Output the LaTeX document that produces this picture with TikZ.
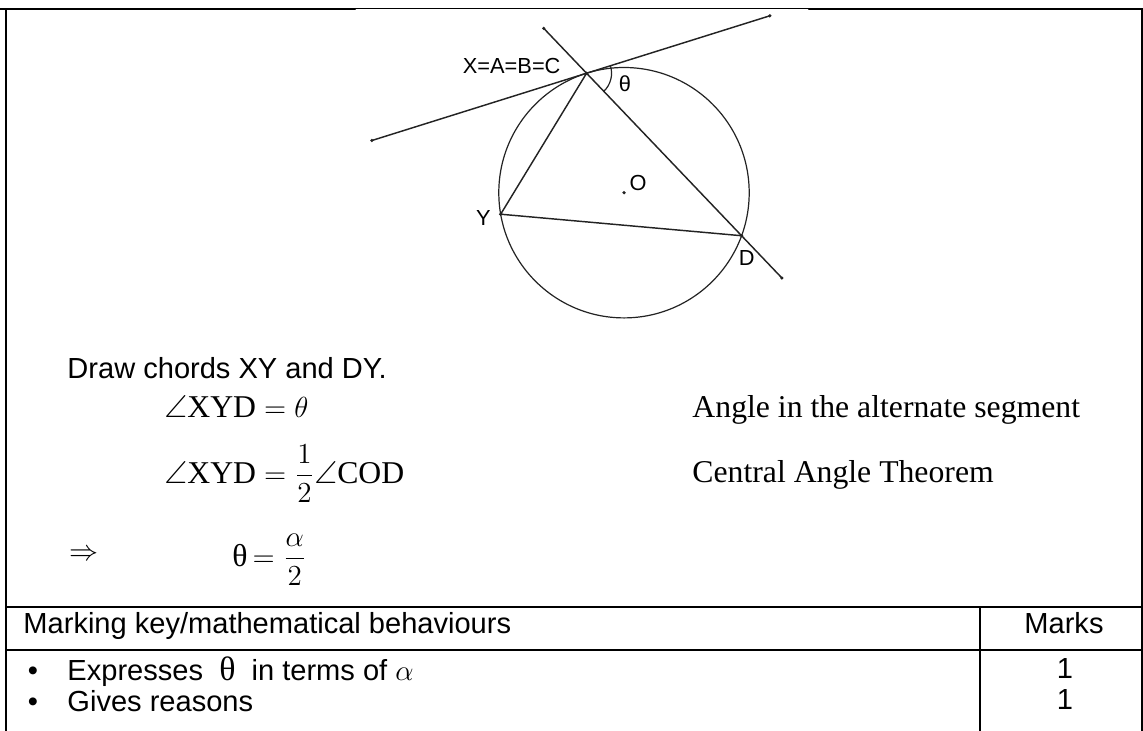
\documentclass[tikz,border=0pt]{standalone}
\usepackage{amsmath, amssymb}
\usepackage{fontspec}
\setmainfont{Liberation Serif}
\newfontfamily\arial{Liberation Sans}
\usepackage{tikz}
\definecolor{geoline}{RGB}{35, 35, 35}
\definecolor{rulecol}{RGB}{0, 0, 0}

\tikzset{
    body/.style={font=\arial\fontsize{12}{14}\selectfont, inner sep=0, anchor=base west},
    reason/.style={font=\fontsize{13.1}{15}\selectfont, inner sep=0, anchor=base west},
    geolabel/.style={font=\arial\fontsize{9}{11}\selectfont, inner sep=0},
}

\begin{document}
\begin{tikzpicture}[x=0.413pt, y=0.413pt, line cap=round]
    \useasboundingbox (0,0) rectangle (1143,-731);

    % Frame
    \draw[rulecol, line width=1pt] (0,-9) -- (355,-9);
    \draw[rulecol, line width=0.4pt] (355,-8.4) -- (809,-8.4);
    \draw[rulecol, line width=1pt] (809,-9) -- (1143,-9);
    \draw[rulecol, line width=0.8pt] (6,-9) -- (6,-731);
    \draw[rulecol, line width=0.8pt] (1142,-9) -- (1142,-731);

    % Circle and its points
    \coordinate (O) at (624,-192.7);
    \coordinate (X) at ([shift={(107.4:125.2)}]O);
    \coordinate (Y) at ([shift={(189.9:125.2)}]O);
    \coordinate (D) at ([shift={(-20.1:125.2)}]O);
    \coordinate (T1) at ([shift={(197.4:225)}]X);
    \coordinate (T2) at ([shift={(17.4:192)}]X);
    \coordinate (S1) at ([shift={(133.65:62)}]X);
    \coordinate (S2) at ([shift={(-46.35:283)}]X);

    \draw[geoline, line width=0.5pt] (O) circle (125.2);
    \draw[geoline, line width=0.6pt] (T1) -- (T2);
    \draw[geoline, line width=0.6pt] (S1) -- (S2);
    \draw[geoline, line width=0.6pt] (X) -- (Y) -- (D);
    \draw[geoline, line width=0.5pt] ([shift={(-46.35:25)}]X) arc[start angle=-46.35, end angle=17.4, radius=25];

    \foreach \p in {X,Y,D,O,T1,T2,S1,S2}
        \fill[geoline] (\p) circle (1.8);

    % Labels
    \node[geolabel] (lblX) at (511.7,-66) {X=A=B=C};
    \node[geolabel] (lblT) at (625,-83.3) {θ};
    \node[geolabel] (lblY) at (483.3,-218.3) {Y};
    \node[geolabel] (lblD) at (746.7,-258.3) {D};
    \node[geolabel] (lblO) at (638,-182.7) {O};

    % Working
    \node[body] (chords) at (67,-378) {Draw chords XY and DY.};
    \node[reason] (eqA) at (164,-417) {$\angle\mathrm{XYD}=\theta$};
    \node[reason] (rsA) at (692,-417) {Angle in the alternate segment};
    \node[reason] (eqB) at (164,-483) {$\angle\mathrm{XYD}=\dfrac{1}{2}\angle\mathrm{COD}$};
    \node[reason] (rsB) at (692,-482) {Central Angle Theorem};
    \node[reason] (imp) at (69,-560) {$\Rightarrow$};
    \node[reason] (eqC) at (232,-566) {θ$\,=\dfrac{\alpha}{2}$};

    % Marking table
    \draw[rulecol, line width=0.8pt] (6,-607) -- (1143,-607);
    \draw[rulecol, line width=0.8pt] (6,-650) -- (1143,-650);
    \draw[rulecol, line width=0.8pt] (980,-607) -- (980,-731);
    \node[body] (hdr) at (23,-633) {Marking key/mathematical behaviours};
    \node[body, anchor=base] (hdrM) at (1064,-633) {Marks};
    \node[body, anchor=base] (dot1) at (33,-680) {•};
    \node[body] (key1) at (67,-680) {Expresses\ \ {\rmfamily\fontsize{14}{16}\selectfont θ}\ \ in terms of $\alpha$};
    \node[body, anchor=base] (dot2) at (33,-711) {•};
    \node[body] (key2) at (67,-711) {Gives reasons};
    \node[body, anchor=base] (mk1) at (1065,-678) {1};
    \node[body, anchor=base] (mk2) at (1065,-709) {1};
\end{tikzpicture}
\end{document}
